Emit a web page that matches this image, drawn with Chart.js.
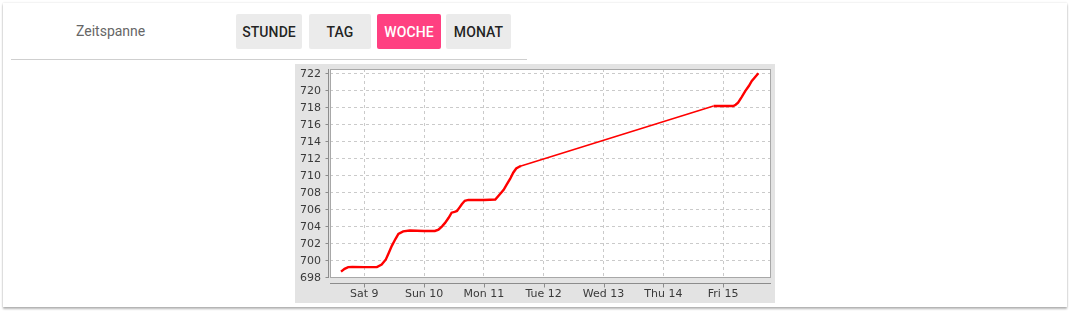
<!DOCTYPE html>
<html>
<head>
<meta charset="utf-8">
<script src="https://cdn.jsdelivr.net/npm/chart.js@4"></script>
<style>
  html, body { margin:0; padding:0; background:#ffffff; width:1072px; height:315px; overflow:hidden; }
  .card { position:absolute; left:3px; top:3px; width:1064px; height:304px; background:#fff;
          box-shadow: 0 2px 2px rgba(0,0,0,0.28), 0 0 2px rgba(0,0,0,0.14); }
  .lbl { position:absolute; left:76px; top:22px; font:14px Roboto, sans-serif; line-height:18px; color:#666; }
  .btn { position:absolute; top:14px; height:35px; display:flex; align-items:center; justify-content:center;
         font:500 14px Roboto, sans-serif; color:rgba(0,0,0,0.87); background:#ebebeb; border-radius:2px; letter-spacing:0.1px; }
  .btn.on { background:#ff4081; color:#fff; }
  .sep { position:absolute; left:11px; top:59px; width:516px; height:1px; background:#cfcfcf; }
  .chartbox { position:absolute; left:295px; top:64px; width:480px; height:239px; background:#e3e3e3; }
</style>
</head>
<body>
<div class="card"></div>
<div class="lbl">Zeitspanne</div>
<div class="btn" style="left:236px;width:66px;">STUNDE</div>
<div class="btn" style="left:309px;width:62px;">TAG</div>
<div class="btn on" style="left:377px;width:64px;">WOCHE</div>
<div class="btn" style="left:446px;width:65px;">MONAT</div>
<div class="sep"></div>
<div class="chartbox"><canvas id="c" width="480" height="239"></canvas></div>
<script>
// x values: days since Sat 9, 00:00
const xDays = [-0.39,-0.33,-0.27,-0.20,0.00,0.21,0.29,0.36,0.41,0.46,0.52,0.57,0.65,0.76,1.00,1.18,1.24,1.30,1.35,1.41,1.46,1.51,1.55,1.59,1.63,1.68,1.74,2.00,2.19,2.27,2.33,2.38,2.44,2.49,2.54,2.59,2.62,5.84,6.00,6.17,6.21,6.25,6.31,6.37,6.43,6.48,6.54,6.59];
const values = [698.67,699.0,699.2,699.22,699.2,699.2,699.5,700.1,700.9,701.7,702.5,703.1,703.4,703.5,703.45,703.45,703.6,704.0,704.4,705.0,705.6,705.7,705.8,706.2,706.6,707.0,707.1,707.1,707.15,707.8,708.3,708.9,709.6,710.3,710.8,711.0,711.1,718.15,718.15,718.15,718.3,718.55,719.2,719.9,720.5,721.1,721.6,722.0];
const xTickValues = [0,1,2,3,4,5,6];
const xTickLabels = ["Sat 9","Sun 10","Mon 11","Tue 12","Wed 13","Thu 14","Fri 15"];
const yTickValues = [698,700,702,704,706,708,710,712,714,716,718,720,722];

const points = xDays.map((x,i)=>({x:x, y:values[i]}));
const tickFont = {family:'"DejaVu Sans", sans-serif', size:11};

const plotDeco = {
  id:'plotDeco',
  beforeDraw(chart){
    const {ctx, chartArea:a} = chart;
    ctx.save(); ctx.fillStyle='#ffffff';
    ctx.fillRect(a.left, a.top, a.right-a.left, a.bottom-a.top);
    ctx.restore();
  },
  afterDraw(chart){
    const {ctx, chartArea:a, scales} = chart;
    ctx.save();
    ctx.strokeStyle='#a8a8a8'; ctx.lineWidth=1;
    ctx.strokeRect(Math.round(a.left)+0.5, Math.round(a.top)+0.5, Math.round(a.right-a.left)-1, Math.round(a.bottom-a.top)-1);
    ctx.strokeStyle='#8c8c8c';
    // y axis line (offset) + ticks
    const yx = Math.round(a.left)-2+0.5;
    ctx.beginPath(); ctx.moveTo(yx, a.top); ctx.lineTo(yx, a.bottom); ctx.stroke();
    scales.y.ticks.forEach(t=>{
      const py = Math.round(scales.y.getPixelForValue(t.value))+0.5;
      ctx.beginPath(); ctx.moveTo(yx-3, py); ctx.lineTo(yx, py); ctx.stroke();
    });
    // x axis line (offset) + ticks
    const xy = Math.round(a.bottom)+5+0.5;
    ctx.beginPath(); ctx.moveTo(a.left, xy); ctx.lineTo(a.right, xy); ctx.stroke();
    scales.x.ticks.forEach(t=>{
      const px = Math.round(scales.x.getPixelForValue(t.value))+0.5;
      ctx.beginPath(); ctx.moveTo(px, xy); ctx.lineTo(px, xy+4); ctx.stroke();
    });
    ctx.restore();
  }
};

new Chart(document.getElementById('c'), {
  type:'line',
  data:{ datasets:[{
    data: points,
    borderColor:'#ff0000',
    borderWidth:2.2,
    pointRadius:0,
    tension:0,
    segment:{ borderWidth: c => (c.p1.parsed.x - c.p0.parsed.x) > 1 ? 1.5 : 2.4 }
  }]},
  options:{
    responsive:false,
    animation:false,
    events:[],
    layout:{ padding:{ top:5, right:4, left:0, bottom:0 } },
    plugins:{ legend:{display:false}, tooltip:{enabled:false} },
    scales:{
      x:{
        type:'linear', min:-0.574, max:6.801,
        afterBuildTicks: s => { s.ticks = xTickValues.map(v=>({value:v})); },
        afterFit: s => { s.height = 25; s.paddingLeft = 0; s.paddingRight = 0; },
        ticks:{ callback:(v,i)=>xTickLabels[i], padding:10, font:tickFont, color:'#3a3a3a', maxRotation:0, minRotation:0, autoSkip:false },
        grid:{ color:'#cacaca', lineWidth:1, drawTicks:false },
        border:{ display:false, dash:[3,3] }
      },
      y:{
        type:'linear', min:697.92, max:722.5,
        afterBuildTicks: s => { s.ticks = yTickValues.map(v=>({value:v})); },
        afterFit: s => { s.width = 35; s.paddingTop = 0; s.paddingBottom = 0; },
        ticks:{ callback:v=>String(v), padding:9, font:tickFont, color:'#3a3a3a', labelOffset:1 },
        grid:{ color:'#cacaca', lineWidth:1, drawTicks:false },
        border:{ display:false, dash:[3,3] }
      }
    }
  },
  plugins:[plotDeco]
});
</script>
</body>
</html>
